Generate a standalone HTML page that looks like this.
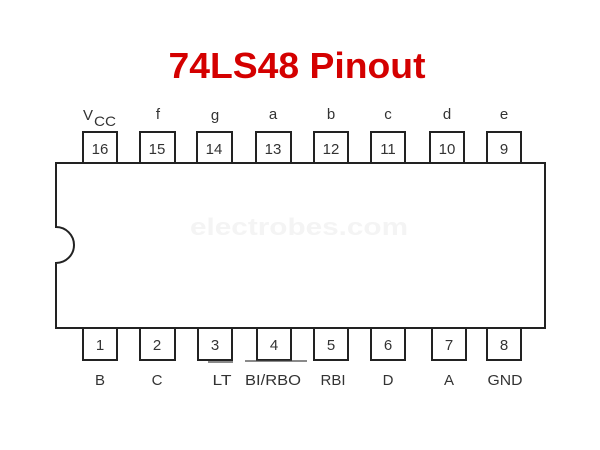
<!DOCTYPE html>
<html><head><meta charset="utf-8"><style>
html,body{margin:0;padding:0;background:#fff;width:600px;height:450px;overflow:hidden}
svg{display:block}
</style></head><body>
<svg width="600" height="450" viewBox="0 0 600 450" xmlns="http://www.w3.org/2000/svg">
<text x="297" y="78" text-anchor="middle" font-family="Liberation Sans, sans-serif" font-weight="bold" font-size="36" fill="#d40000" textLength="257" lengthAdjust="spacingAndGlyphs">74LS48 Pinout</text>
<text x="299" y="235" text-anchor="middle" font-family="Liberation Sans, sans-serif" font-weight="bold" font-size="24" fill="#f4f4f4" textLength="218" lengthAdjust="spacingAndGlyphs">electrobes.com</text>
<path d="M56,163 H545 V328 H56 V263 A18,18 0 0 0 56,227 Z" fill="none" stroke="#222" stroke-width="2"/>
<g fill="#fff" stroke="#222" stroke-width="2">
<rect x="83" y="132" width="34" height="31"/><rect x="140" y="132" width="35" height="31"/>
<rect x="197" y="132" width="35" height="31"/><rect x="256" y="132" width="35" height="31"/>
<rect x="314" y="132" width="34" height="31"/><rect x="371" y="132" width="34" height="31"/>
<rect x="430" y="132" width="34" height="31"/><rect x="487" y="132" width="34" height="31"/>
<rect x="83" y="328" width="34" height="32"/><rect x="140" y="328" width="35" height="32"/>
<rect x="198" y="328" width="34" height="32"/><rect x="257" y="328" width="34" height="32"/>
<rect x="314" y="328" width="34" height="32"/><rect x="371" y="328" width="34" height="32"/>
<rect x="432" y="328" width="34" height="32"/><rect x="487" y="328" width="34" height="32"/>
</g>
<g font-family="Liberation Sans, sans-serif" font-size="15" fill="#333" text-anchor="middle">
<text x="100" y="154">16</text><text x="157" y="154">15</text><text x="214" y="154">14</text><text x="273" y="154">13</text>
<text x="331" y="154">12</text><text x="388" y="154">11</text><text x="447" y="154">10</text><text x="504" y="154">9</text>
<text x="100" y="350">1</text><text x="157" y="350">2</text><text x="215" y="350">3</text><text x="274" y="350">4</text>
<text x="331" y="350">5</text><text x="388" y="350">6</text><text x="449" y="350">7</text><text x="504" y="350">8</text>
</g>
<g font-family="Liberation Sans, sans-serif" font-size="15" fill="#333" text-anchor="middle">
<text x="88" y="120">V</text><text x="105" y="126" font-size="14" textLength="22" lengthAdjust="spacingAndGlyphs">CC</text>
<text x="158" y="119">f</text><text x="215" y="120">g</text><text x="273" y="119">a</text>
<text x="331" y="119">b</text><text x="388" y="119">c</text><text x="447" y="119">d</text><text x="504" y="119">e</text>
<text x="100" y="385">B</text><text x="157" y="385">C</text><text x="222" y="385" textLength="19" lengthAdjust="spacingAndGlyphs">LT</text>
<text x="273" y="385" textLength="56" lengthAdjust="spacingAndGlyphs">BI/RBO</text><text x="333" y="385" textLength="25" lengthAdjust="spacingAndGlyphs">RBI</text><text x="388" y="385">D</text>
<text x="449" y="385">A</text><text x="505" y="385" textLength="35" lengthAdjust="spacingAndGlyphs">GND</text>
</g>
<g stroke="#444" stroke-width="1.2">
<line x1="208" y1="362" x2="233" y2="362"/>
<line x1="245" y1="361" x2="307" y2="361"/>
</g>
</svg>
</body></html>
